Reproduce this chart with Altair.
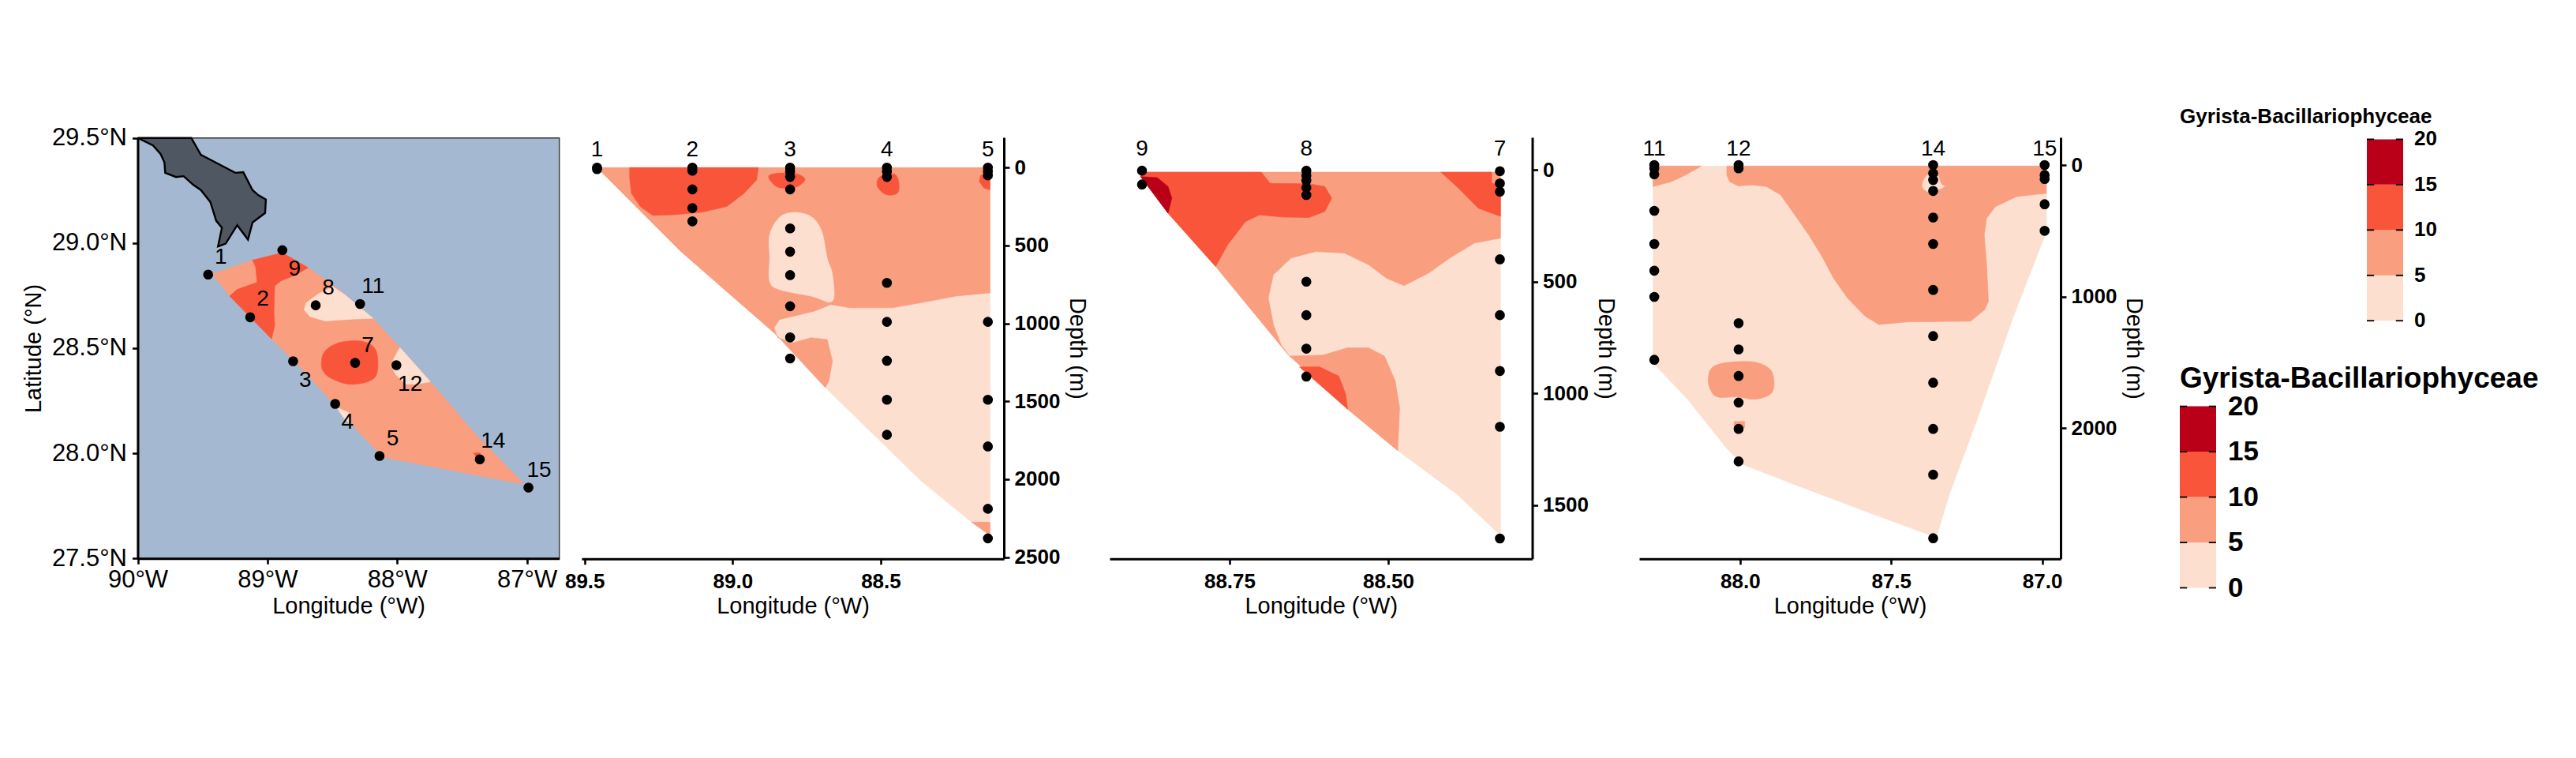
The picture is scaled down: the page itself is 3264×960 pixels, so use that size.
import altair as alt
import pandas as pd

FONT = "Liberation Sans"
C0, C1, C2, C3 = "#FCDFCF", "#F99E7F", "#F9553B", "#BA0019"
SEA = "#A4B8D1"
LAND = "#4F5763"
W, H = 3240, 930

# ---------- map ----------
STATIONS = ["1", "2", "3", "4", "5", "7", "8", "9", "11", "12", "14", "15"]
ST_LON = [89.457, 89.133, 88.802, 88.478, 88.136, 88.324, 88.628, 88.885, 88.286, 88.006, 87.363, 86.988]
ST_LAT = [28.850, 28.647, 28.438, 28.235, 27.987, 28.430, 28.704, 28.966, 28.710, 28.419, 27.971, 27.837]
LBL_LON = [89.360, 89.035, 88.708, 88.383, 88.035, 88.227, 88.531, 88.791, 88.186, 87.900, 87.260, 86.906]
LBL_LAT = [28.932, 28.731, 28.345, 28.145, 28.068, 28.511, 28.785, 28.875, 28.793, 28.327, 28.055, 27.917]

LAND_POLY = [(90.0,29.5),(89.882,29.464),(89.823,29.423),(89.794,29.383),(89.788,29.334),(89.705,29.314),
             (89.646,29.318),(89.572,29.277),(89.513,29.252),(89.440,29.195),(89.395,29.106),(89.351,29.073),
             (89.381,28.984),(89.322,28.997),(89.233,29.085),(89.150,29.016),(89.115,29.098),(89.018,29.143),
             (89.012,29.207),(89.071,29.228),(89.115,29.252),(89.186,29.337),(89.248,29.334),(89.513,29.420),
             (89.587,29.5),(90.0,29.5)]
MAP_POLYS = [
    (C1, [(89.425,28.853),(89.115,28.919),(88.885,28.954),(88.687,28.883),(88.466,28.788),(88.186,28.642),
          (87.979,28.503),(87.743,28.340),(87.404,28.096),(87.021,27.852),(87.434,27.901),(88.112,27.982),
          (88.289,28.096),(88.466,28.218),(88.702,28.381),(88.968,28.544),(89.292,28.748)]),
    (C2, [(89.115,28.919),(88.885,28.954),(88.687,28.883),(88.791,28.845),(88.894,28.821),(88.944,28.796),
          (88.950,28.674),(88.944,28.609),(88.968,28.544),(89.292,28.748),(89.233,28.780),(89.080,28.813),
          (89.091,28.886)]),
    (C2, [(88.584,28.430),(88.555,28.487),(88.437,28.528),(88.260,28.531),(88.162,28.487),(88.156,28.381),
          (88.230,28.340),(88.378,28.329),(88.510,28.357),(88.569,28.389)], True),
    (C0, [(88.614,28.756),(88.496,28.793),(88.407,28.756),(88.186,28.642),(88.348,28.638),(88.555,28.629),
          (88.673,28.650),(88.717,28.682),(88.702,28.715)]),
    (C0, [(87.979,28.503),(87.743,28.340),(87.847,28.329),(87.935,28.329),(88.009,28.373),(88.047,28.414),(88.024,28.454)]),
    (C0, [(88.466,28.218),(88.372,28.194),(88.372,28.145),(88.413,28.169)]),
    (C2, [(87.410,28.002),(87.360,28.002),(87.360,27.974),(87.389,27.977)]),
]

# ---------- section 1 ----------
S1_STATIONS = [("1", 89.458, [0, 10]),
               ("2", 89.136, [0, 20, 140, 260, 345]),
               ("3", 88.806, [0, 25, 60, 140, 390, 540, 690, 890, 1090, 1225]),
               ("4", 88.479, [0, 25, 60, 740, 990, 1240, 1490, 1715]),
               ("5", 88.138, [0, 25, 50, 990, 1490, 1790, 2190, 2380])]
S1_POLYS = [
    (C0, [(89.458,0),(88.131,0),(88.131,2361),(88.193,2276),(88.365,2009),(88.687,1412),(88.854,1071),(89.175,538)]),
    (C1, [(89.458,0),(88.131,0),(88.131,804),(88.246,825),(88.365,868),(88.461,900),(88.604,900),(88.669,879),
          (88.723,921),(88.842,975),(88.860,1028),(88.848,1092),(88.794,1124),(88.735,1092),(88.681,1103),
          (88.663,1241),(88.675,1369),(88.687,1412),(88.854,1071),(89.175,538)]),
    (C0, [(88.875,431),(88.842,320),(88.794,288),(88.735,314),(88.699,410),(88.681,580),(88.663,687),(88.663,857),
          (88.735,825),(88.842,783),(88.875,730),(88.875,580)], True),
    (C1, [(88.193,2276),(88.131,2276),(88.131,2361)]),
    (C2, [(89.348,0),(88.913,0),(88.919,79),(88.961,164),(89.020,250),(89.104,286),(89.199,303),(89.270,307),
          (89.312,250),(89.342,164),(89.348,68)]),
    (C2, [(88.875,47),(88.794,36),(88.756,73),(88.782,122),(88.830,132),(88.860,111)], True),
    (C2, [(88.502,58),(88.449,47),(88.440,154),(88.479,175),(88.511,122)], True),
    (C2, [(88.163,51),(88.131,36),(88.131,143),(88.151,132),(88.167,90)]),
]

# ---------- section 2 ----------
S2_STATIONS = [("9", 88.888, [3, 65]),
               ("8", 88.629, [3, 25, 48, 79, 112, 500, 650, 800, 925]),
               ("7", 88.324, [5, 60, 97, 400, 650, 900, 1150, 1650])]
S2_EDGE = [(88.392,1451),(88.485,1257),(88.564,1071),(88.658,826),(88.772,432),(88.847,193),(88.890,30)]
S2_POLYS = [
    (C0, [(88.890,10),(88.323,10),(88.323,1637)] + S2_EDGE),
    (C1, [(88.890,10),(88.323,10),(88.323,305),(88.364,327),(88.403,394),(88.436,461),(88.475,518),(88.503,484),
          (88.531,424),(88.569,372),(88.614,365),(88.653,394),(88.681,469),(88.689,573),(88.681,692),(88.669,781),
          (88.656,833),(88.603,829),(88.564,796),(88.531,796),(88.506,833),(88.489,945),(88.482,1064),(88.485,1257),
          (88.564,1071),(88.658,826),(88.772,432),(88.847,193),(88.890,30)]),
    (C2, [(88.890,10),(88.700,10),(88.686,60),(88.625,62),(88.600,74),(88.589,126),(88.600,186),(88.625,213),
          (88.664,211),(88.703,201),(88.725,231),(88.753,335),(88.772,432),(88.847,193),(88.890,30)]),
    (C2, [(88.417,10),(88.337,10),(88.337,60),(88.323,64),(88.323,208),(88.358,171),(88.392,74)]),
    (C2, [(88.640,882),(88.608,882),(88.578,923),(88.567,1004),(88.564,1071)]),
    (C3, [(88.890,30),(88.864,34),(88.847,74),(88.841,126),(88.847,193)]),
]

# ---------- section 3 ----------
S3_STATIONS = [("11", 88.284, [0, 25, 70, 348, 600, 803, 1002, 1480]),
               ("12", 88.005, [0, 25, 1202, 1401, 1603, 1805, 2005, 2252]),
               ("14", 87.361, [0, 63, 114, 197, 399, 600, 949, 1300, 1654, 2005, 2353, 2836]),
               ("15", 86.992, [0, 76, 106, 298, 500])]
S3_POLYS = [
    (C0, [(88.288,8),(86.986,8),(86.986,505),(87.097,1162),(87.213,1919),(87.307,2500),(87.347,2803),(87.376,2808),
          (87.563,2651),(87.796,2449),(87.994,2273),(88.047,2146),(88.169,1793),(88.262,1566),(88.288,1502)]),
    (C1, [(88.288,8),(88.128,8),(88.181,76),(88.227,126),(88.288,164)]),
    (C1, [(88.044,8),(86.986,8),(86.986,215),(87.085,240),(87.155,316),(87.184,404),(87.192,530),(87.184,758),
          (87.178,1035),(87.190,1098),(87.237,1187),(87.446,1192),(87.540,1212),(87.586,1149),(87.645,1010),
          (87.691,859),(87.726,707),(87.773,530),(87.819,379),(87.866,227),(87.913,164),(87.959,152),(88.006,159),
          (88.035,126),(88.044,76)]),
    (C0, [(87.394,126),(87.376,71),(87.347,76),(87.336,139),(87.324,164),(87.347,189),(87.371,207),(87.394,177)], True),
    (C1, [(88.105,1616),(88.093,1540),(88.047,1502),(87.959,1495),(87.907,1540),(87.889,1616),(87.895,1730),
          (87.948,1780),(88.006,1762),(88.076,1762),(88.101,1692)], True),
    (C1, [(88.020,1949),(87.985,1949),(87.985,1995),(88.020,1995)]),
]

LEGEND_BREAKS = [0, 5, 10, 15, 20]
LEGEND_COLORS = [C0, C1, C2, C3]
LEGEND_TITLE = "Gyrista-Bacillariophyceae"


def poly_layer(item, xs, ys, stroke=None, sw=0.0):
    color, pts = item[0], item[1]
    smooth = len(item) > 2
    closed = list(pts) if smooth else list(pts) + [pts[0]]
    df = pd.DataFrame({"x": [p[0] for p in closed], "y": [p[1] for p in closed], "i": range(len(closed))})
    return alt.Chart(df).mark_line(
        fill=color, stroke=stroke or color, strokeWidth=sw or 0.6,
        interpolate="cardinal-closed" if smooth else "linear",
    ).encode(
        x=alt.X("x:Q", scale=xs, axis=None),
        y=alt.Y("y:Q", scale=ys, axis=None),
        order=alt.Order("i:Q"),
    )


def axis_x(values, expr, bottom, size, font_weight, pad):
    return alt.Axis(values=values, labelExpr=expr, title="Longitude (°W)", grid=False, orient="bottom",
                    offset=bottom - H, labelFont=FONT, labelFontSize=size, labelFontWeight=font_weight,
                    labelColor="black", labelPadding=pad, labelOverlap=False, labelFlush=False,
                    titleFont=FONT, titleFontSize=29, titleFontWeight="normal", titleColor="black", titlePadding=4,
                    domainColor="black", domainWidth=3, tickColor="black", tickWidth=2.6, tickSize=7, zindex=1)


def section(stations, polys, xdom, xrange, ydom, yrange, xvals, xexpr, yvals, label_depth):
    xs = alt.Scale(domain=xdom, range=xrange, nice=False, zero=False)
    ys = alt.Scale(domain=ydom, range=yrange, nice=False, zero=False)
    pts = pd.DataFrame([{"x": lon, "y": d} for _, lon, ds in stations for d in ds])
    lbl = pd.DataFrame([{"x": lon, "y": label_depth, "t": name} for name, lon, _ in stations])
    layers = [poly_layer(p, xs, ys) for p in polys]
    axis_layer = alt.Chart(pts).mark_point(size=160, filled=True, color="black", opacity=1).encode(
        x=alt.X("x:Q", scale=xs, axis=axis_x(xvals, xexpr, yrange[1], 26, "bold", 9)),
        y=alt.Y("y:Q", scale=ys, axis=alt.Axis(
            values=yvals, labelExpr="format(datum.value, 'd')", title="Depth (m)", grid=False, orient="right",
            offset=xrange[1] - W,
            labelFont=FONT, labelFontSize=26, labelFontWeight="bold", labelColor="black", labelPadding=6,
            labelOverlap=False, labelFlush=False, titleFont=FONT, titleFontSize=29, titleFontWeight="normal",
            titlePadding=7, titleColor="black", domainColor="black", domainWidth=3, tickColor="black", tickWidth=2.6,
            tickSize=7, zindex=1)),
    )
    text = alt.Chart(lbl).mark_text(font=FONT, fontSize=28, color="black", baseline="middle", align="center").encode(
        x=alt.X("x:Q", scale=xs, axis=None), y=alt.Y("y:Q", scale=ys, axis=None), text="t:N")
    return [*layers, axis_layer, text]


def map_panel():
    xr = [166.5, 700.7]
    yr = [699.2, 166.7]
    xs = alt.Scale(domain=[90, 86.75], range=xr, nice=False, zero=False)
    ys = alt.Scale(domain=[27.5, 29.5], range=yr, nice=False, zero=False)
    bg = alt.Chart(pd.DataFrame({"a": [90], "b": [86.75], "c": [27.5], "d": [29.5]})).mark_rect(
        color=SEA, stroke="#333333", strokeWidth=1.4).encode(
        x=alt.X("a:Q", scale=xs, axis=axis_x([90, 89, 88, 87], "datum.value + '°W'", yr[0], 31, "normal", 5)),
        x2="b:Q",
        y=alt.Y("c:Q", scale=ys, axis=alt.Axis(
            values=[27.5, 28, 28.5, 29, 29.5], labelExpr="format(datum.value, '.1f') + '°N'", title="Latitude (°N)",
            grid=False, orient="left", offset=-xr[0], labelFont=FONT, labelFontSize=31, labelColor="black",
            labelPadding=7, labelOverlap=False, labelFlush=False, titleFont=FONT, titleFontSize=29,
            titleFontWeight="normal", titleColor="black", titlePadding=8, domainColor="black", domainWidth=3,
            tickColor="black", tickWidth=2.6, tickSize=7, zindex=1)),
        y2="d:Q",
    )
    polys = [poly_layer(p, xs, ys) for p in MAP_POLYS]
    land = poly_layer((LAND, LAND_POLY), xs, ys, stroke="black", sw=2.4)
    pts = alt.Chart(pd.DataFrame({"x": ST_LON, "y": ST_LAT})).mark_point(size=160, filled=True, color="black", opacity=1).encode(
        x=alt.X("x:Q", scale=xs, axis=None), y=alt.Y("y:Q", scale=ys, axis=None))
    text = alt.Chart(pd.DataFrame({"x": LBL_LON, "y": LBL_LAT, "t": STATIONS})).mark_text(
        font=FONT, fontSize=28, color="black", baseline="middle", align="center").encode(
        x=alt.X("x:Q", scale=xs, axis=None), y=alt.Y("y:Q", scale=ys, axis=None), text="t:N")
    return [bg, land, *polys, pts, text]


def legend(xr, yr, size, title_size, title_x, title_y, label_x):
    xs = alt.Scale(domain=[0, 1], range=xr, nice=False, zero=False)
    ys = alt.Scale(domain=[0, 20], range=yr, nice=False, zero=False)
    rects = pd.DataFrame({"lo": LEGEND_BREAKS[:-1], "hi": LEGEND_BREAKS[1:], "c": LEGEND_COLORS, "a": [0] * 4, "b": [1] * 4})
    bars = alt.Chart(rects).mark_rect().encode(
        x=alt.X("a:Q", scale=xs, axis=None), x2="b:Q",
        y=alt.Y("lo:Q", scale=ys, axis=None), y2="hi:Q",
        color=alt.Color("c:N", scale=None, legend=None))
    ticks = pd.DataFrame([{"a": a, "b": b, "v": v} for v in LEGEND_BREAKS for a, b in [(0, 0.2), (0.8, 1)]])
    tk = alt.Chart(ticks).mark_rule(color="black", strokeWidth=1.8).encode(
        x=alt.X("a:Q", scale=xs, axis=None), x2="b:Q", y=alt.Y("v:Q", scale=ys, axis=None))
    lbl = alt.Chart(pd.DataFrame({"x": [label_x] * 5, "y": LEGEND_BREAKS, "t": [str(v) for v in LEGEND_BREAKS]})).mark_text(
        font=FONT, fontSize=size, fontWeight="bold", color="black", align="left", baseline="middle").encode(
        x=alt.X("x:Q", scale=xs, axis=None), y=alt.Y("y:Q", scale=ys, axis=None), text="t:N")
    ttl = alt.Chart(pd.DataFrame({"x": [title_x], "y": [title_y], "t": [LEGEND_TITLE]})).mark_text(
        font=FONT, fontSize=title_size, fontWeight="bold", color="black", align="left", baseline="middle").encode(
        x=alt.X("x:Q", scale=xs, axis=None), y=alt.Y("y:Q", scale=ys, axis=None), text="t:N")
    return [bars, tk, lbl, ttl]


layers = (
    map_panel()
    + section(S1_STATIONS, S1_POLYS, [89.51, 88.084], [729, 1264], [-194, 2511], [166, 699.7],
              [89.5, 89.0, 88.5], "format(datum.value, '.1f')", [0, 500, 1000, 1500, 2000, 2500], -113)
    + section(S2_STATIONS, S2_POLYS, [88.939, 88.273], [1398, 1933.5], [-146, 1741], [166, 699.7],
              [88.75, 88.5], "format(datum.value, '.2f')", [0, 500, 1000, 1500], -94)
    + section(S3_STATIONS, S3_POLYS, [88.334, 86.939], [2069, 2603], [-210, 2992], [166, 699.7],
              [88.0, 87.5, 87.0], "format(datum.value, '.1f')", [0, 1000, 2000], -119)
    + legend([2991, 3037], [398.2, 168.4], 26, 26, -5.15, 22.47, 1.304)
    + legend([2754, 2800], [736.5, 506.6], 35, 37, 0, 23.01, 1.326)
)

chart = (
    alt.layer(*layers)
    .resolve_scale(x="independent", y="independent", color="independent")
    .resolve_axis(x="independent", y="independent")
    .properties(width=W, height=H, padding=0, autosize=alt.AutoSizeParams(type="none"))
    .configure_view(stroke=None)
)
chart.save("out.html", embed_options={"renderer": "svg", "actions": False})
